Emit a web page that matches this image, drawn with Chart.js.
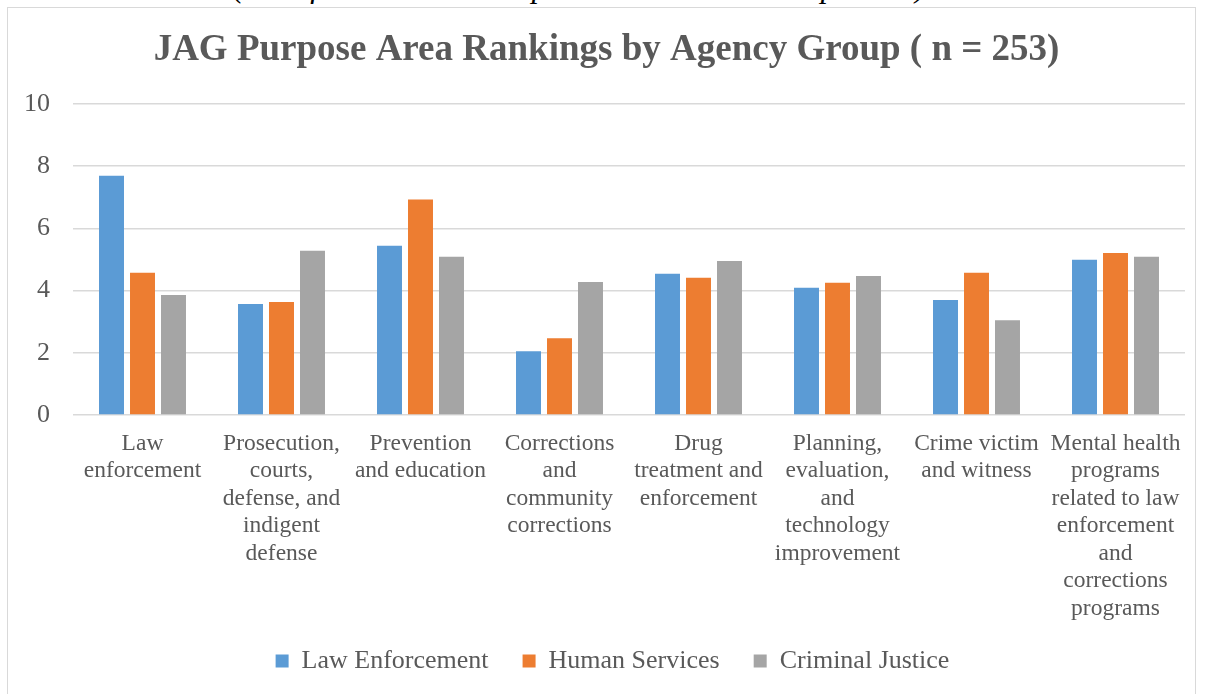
<!DOCTYPE html>
<html>
<head>
<meta charset="utf-8">
<script src="https://cdn.jsdelivr.net/npm/chart.js@4.4.0/dist/chart.umd.min.js"></script>
<style>
  html, body { margin: 0; padding: 0; background: #ffffff; overflow: hidden; }
  #wrap { position: relative; width: 1205px; height: 694px; overflow: hidden; }
  #frame { position: absolute; left: 7px; top: 7px; width: 1189px; height: 720px; border: 1.5px solid #d9d9d9; box-sizing: border-box; }
  #caption { position: absolute; left: 233px; top: -30px; font: italic 32px 'Liberation Serif', 'Times New Roman', serif; line-height: 32px; color: #000; white-space: nowrap; }
  #c { position: absolute; left: 0; top: 0; }
</style>
</head>
<body>
<div id="wrap">
  <div id="caption">(rank from 1 = most important to 8 = least important).</div>
  <div id="frame"></div>
  <canvas id="c" width="1205" height="694"></canvas>
</div>
<script>
const categories = [
  ["Law", "enforcement"],
  ["Prosecution,", "courts,", "defense, and", "indigent", "defense"],
  ["Prevention", "and education"],
  ["Corrections", "and", "community", "corrections"],
  ["Drug", "treatment and", "enforcement"],
  ["Planning,", "evaluation,", "and", "technology", "improvement"],
  ["Crime victim", "and witness"],
  ["Mental health", "programs", "related to law", "enforcement", "and", "corrections", "programs"]
];
const seriesNames = ["Law Enforcement", "Human Services", "Criminal Justice"];
const lawEnforcement = [7.69, 3.57, 5.44, 2.05, 4.54, 4.09, 3.70, 4.99];
const humanServices = [4.57, 3.63, 6.93, 2.47, 4.41, 4.25, 4.57, 5.21];
const criminalJustice = [3.86, 5.28, 5.09, 4.28, 4.95, 4.47, 3.05, 5.09];
const yTicks = [0, 2, 4, 6, 8, 10];
const titleText = "JAG Purpose Area Rankings by Agency Group ( n = 253)";

const colors = ["#5B9BD5", "#ED7D31", "#A5A5A5"];
const textColor = "#595959";
const serif = "'Liberation Serif', 'Times New Roman', serif";

Chart.defaults.font.family = serif;
Chart.defaults.color = textColor;

const seriesValues = [lawEnforcement, humanServices, criminalJustice];

// shift title and legend blocks horizontally to match the reference's centring
const shiftPlugin = {
  id: 'shiftBlocks',
  afterLayout(chart) {
    if (chart.titleBlock) { chart.titleBlock.left += 14; chart.titleBlock.right += 14; }
    if (chart.legend) { chart.legend.left += 20; chart.legend.right += 20; }
  }
};

new Chart(document.getElementById('c'), {
  type: 'bar',
  data: {
    labels: categories,
    datasets: seriesNames.map((name, i) => ({
      label: name,
      data: seriesValues[i],
      backgroundColor: colors[i],
      borderWidth: 0,
      categoryPercentage: 0.669,
      barPercentage: 0.806
    }))
  },
  plugins: [shiftPlugin],
  options: {
    responsive: false,
    animation: false,
    devicePixelRatio: 1,
    layout: { padding: { left: 0, right: 20, top: 0, bottom: 10 } },
    plugins: {
      title: {
        display: true,
        text: titleText,
        color: textColor,
        font: { family: serif, size: 37, weight: 'bold', lineHeight: 1.2 },
        padding: { top: 28.5, bottom: 31.1 }
      },
      legend: {
        display: true,
        position: 'bottom',
        labels: {
          color: textColor,
          font: { family: serif, size: 26 },
          boxWidth: 13,
          boxHeight: 13,
          padding: 21,
          generateLabels: (chart) => {
            const items = Chart.defaults.plugins.legend.labels.generateLabels(chart);
            items.forEach((it, i) => { if (i < items.length - 1) it.text = it.text + '  '; });
            return items;
          }
        }
      },
      tooltip: { enabled: false }
    },
    scales: {
      x: {
        grid: { display: false, drawTicks: false },
        border: { display: false },
        ticks: {
          color: textColor,
          font: { family: serif, size: 23.5, lineHeight: 1.17 },
          padding: 15,
          maxRotation: 0,
          autoSkip: false
        },
        afterFit: (s) => { s.height = 212; }
      },
      y: {
        min: 0,
        max: 10,
        afterBuildTicks: (s) => { s.ticks = yTicks.map(v => ({ value: v })); },
        grid: { color: '#d9d9d9', lineWidth: 1.5, drawTicks: false },
        border: { display: false },
        ticks: {
          color: textColor,
          font: { family: serif, size: 26 },
          padding: 23
        },
        afterFit: (s) => { s.width = 73; }
      }
    }
  }
});
</script>
</body>
</html>
